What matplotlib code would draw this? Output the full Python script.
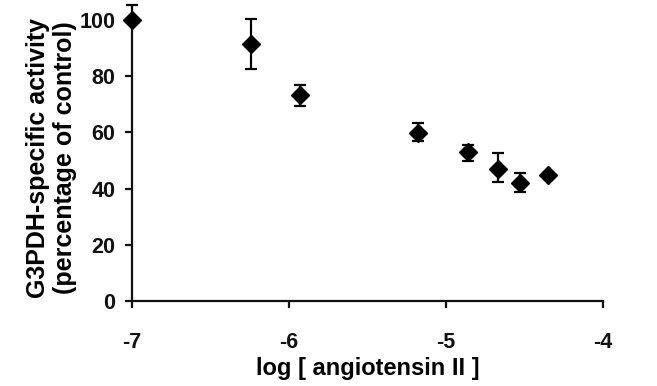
import numpy as np
import matplotlib.pyplot as plt

plt.rcParams['font.family'] = ['Liberation Sans', 'DejaVu Sans']
plt.rcParams['font.weight'] = 'bold'
plt.rcParams['axes.unicode_minus'] = False

# log concentration vs activity (% of control)
log_conc = [-7.0, -6.24, -5.93, -5.18, -4.86, -4.67, -4.53, -4.35]
activity = [100.0, 91.5, 73.2, 59.7, 53.0, 47.0, 42.0, 44.8]
err_lo = [0.0, 9.0, 3.8, 2.9, 3.1, 4.5, 3.3, 0.0]
err_hi = [5.3, 8.9, 3.6, 3.5, 2.5, 5.6, 3.4, 0.0]

xticks = [-7, -6, -5, -4]
yticks = [0, 20, 40, 60, 80, 100]

fig = plt.figure(figsize=(6.57, 3.86), dpi=100)
ax = fig.add_axes([0.2009, 0.2202, 0.7169, 0.728])

ax.errorbar(log_conc, activity, yerr=[err_lo, err_hi], fmt='D', color='black',
            ms=9, elinewidth=1.6, capsize=4.5, capthick=1.6, clip_on=False, zorder=3)

ax.set_xlim(-7, -4)
ax.set_ylim(0, 100)
ax.set_xticks(xticks)
ax.set_xticklabels([str(t) for t in xticks])
ax.set_yticks(yticks)

for s in ['top', 'right']:
    ax.spines[s].set_visible(False)
for s in ['left', 'bottom']:
    ax.spines[s].set_linewidth(1.6)
    ax.spines[s].set_color('#111111')

ax.tick_params(axis='both', width=1.6, length=5, labelsize=15.5, colors='#111111')
ax.tick_params(axis='y', pad=7)
ax.tick_params(axis='x', pad=17)

ax.set_xlabel('log [ angiotensin II ]', fontsize=17, fontweight='bold')
ax.set_ylabel('G3PDH-specific activity\n(percentage of control)', fontsize=18,
              fontweight='bold', linespacing=1.15)
ax.xaxis.set_label_coords(0.5, -0.2)
ax.yaxis.set_label_coords(-0.117, 0.51)

fig.savefig('out.png', dpi=100)
